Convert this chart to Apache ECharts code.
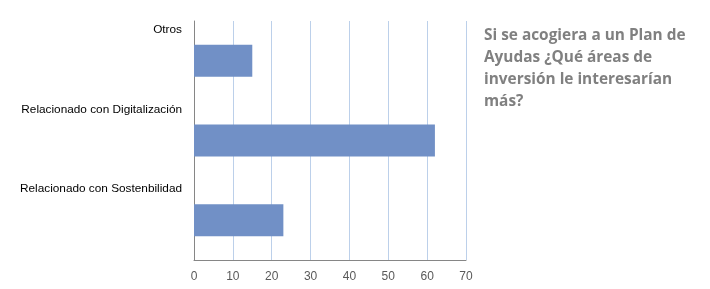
<!DOCTYPE html>
<html><head><meta charset="utf-8">
<script src="https://cdn.jsdelivr.net/npm/echarts@6/dist/echarts.min.js"></script>
<style>html,body{margin:0;padding:0;background:#fff}#c{width:710px;height:289px}</style>
</head><body><div id="c"></div>
<script>
const categories = ['Relacionado con Sostenbilidad', 'Relacionado con Digitalización', 'Otros'];
const values = [23, 62, 15];
const xTicks = [0, 10, 20, 30, 40, 50, 60, 70];
const titleText = 'Si se acogiera a un Plan de\nAyudas ¿Qué áreas de\ninversión le interesarían\nmás?';

const chart = echarts.init(document.getElementById('c'));
chart.setOption({
  animation: false,
  title: {
    text: titleText,
    left: 484, top: 24, padding: 0,
    textStyle: { fontFamily: 'Open Sans', fontWeight: 'bold', fontSize: 15.4, color: '#808080', lineHeight: 22.3 }
  },
  grid: { left: 194, right: 244, top: 21, bottom: 29, containLabel: false },
  xAxis: {
    type: 'value', min: xTicks[0], max: xTicks[xTicks.length - 1], interval: 10,
    axisLine: { show: true, lineStyle: { color: '#868686', width: 1 } },
    axisTick: { show: false },
    splitLine: { show: true, lineStyle: { color: '#BCD0EA', width: 1 } },
    axisLabel: { color: '#595959', fontFamily: 'Liberation Sans', fontSize: 12, margin: 11 }
  },
  yAxis: {
    type: 'category', data: categories,
    axisLine: { show: true, lineStyle: { color: '#868686', width: 1 } },
    axisTick: { show: false },
    splitLine: { show: false },
    axisLabel: {
      margin: 12,
      formatter: function (v) { return '{a|' + v + '}'; },
      rich: { a: { color: '#000', fontFamily: 'Liberation Sans', fontSize: 11.8, padding: [0, 0, 62, 0] } }
    }
  },
  series: [{
    type: 'bar', data: values, barWidth: 32,
    itemStyle: { color: '#7190C6' }
  }]
});
</script></body></html>
